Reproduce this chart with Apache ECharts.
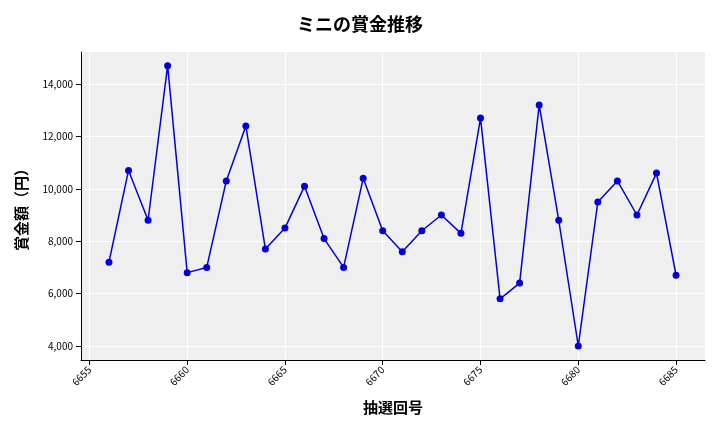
<!DOCTYPE html>
<html><head><meta charset="utf-8">
<script src="https://cdn.jsdelivr.net/npm/echarts@6/dist/echarts.min.js"></script>
<style>body{margin:0}#c{width:720px;height:432px}</style></head>
<body><div id="c"></div>
<script>
const draws = [6656,6657,6658,6659,6660,6661,6662,6663,6664,6665,6666,6667,6668,6669,6670,6671,6672,6673,6674,6675,6676,6677,6678,6679,6680,6681,6682,6683,6684,6685];
const prizes = [7200,10700,8800,14700,6800,7000,10300,12400,7700,8500,10100,8100,7000,10400,8400,7600,8400,9000,8300,12700,5800,6400,13200,8800,4000,9500,10300,9000,10600,6700];
const xTicks = [6655,6660,6665,6670,6675,6680,6685];
const yTicks = [4000,6000,8000,10000,12000,14000];

const font = '"Noto Sans CJK JP", sans-serif';
const chart = echarts.init(document.getElementById('c'));
chart.setOption({
  animation: false,
  title: { text: 'ミニの賞金推移', left: 'center', top: 10,
    textStyle: { fontFamily: font, fontSize: 18, fontWeight: 'bold', color: '#000' } },
  grid: { left: 81, right: 15, top: 52, bottom: 72, backgroundColor: '#efefef', show: true, borderWidth: 0 },
  xAxis: {
    type: 'value', min: 6654.57, max: 6686.48,
    name: '抽選回号', nameLocation: 'middle', nameGap: 40,
    nameTextStyle: { fontFamily: font, fontSize: 15, fontWeight: 'bold', color: '#000' },
    axisLine: { show: true, lineStyle: { color: '#000' } },
    axisTick: { show: true, customValues: xTicks, lineStyle: { color: '#000' } },
    axisLabel: { customValues: xTicks, rotate: 45, fontSize: 10, color: '#000', fontFamily: font,
      formatter: v => String(v) },
    splitLine: { show: true, customValues: xTicks, lineStyle: { color: '#fff' } }
  },
  yAxis: {
    type: 'value', min: 3466, max: 15221,
    name: '賞金額（円）', nameLocation: 'middle', nameGap: 52,
    nameTextStyle: { fontFamily: font, fontSize: 15, fontWeight: 'bold', color: '#000' },
    axisLine: { show: true, lineStyle: { color: '#000' } },
    axisTick: { show: true, customValues: yTicks, lineStyle: { color: '#000' } },
    axisLabel: { customValues: yTicks, fontSize: 10, color: '#000', fontFamily: font,
      formatter: v => v.toLocaleString('en-US') },
    splitLine: { show: true, customValues: yTicks, lineStyle: { color: '#fff' } }
  },
  series: [{
    type: 'line', data: draws.map((d, i) => [d, prizes[i]]),
    symbol: 'circle', symbolSize: 7,
    lineStyle: { color: '#0000dd', width: 1.5 },
    itemStyle: { color: '#0000dd' }
  }]
});
</script></body></html>
